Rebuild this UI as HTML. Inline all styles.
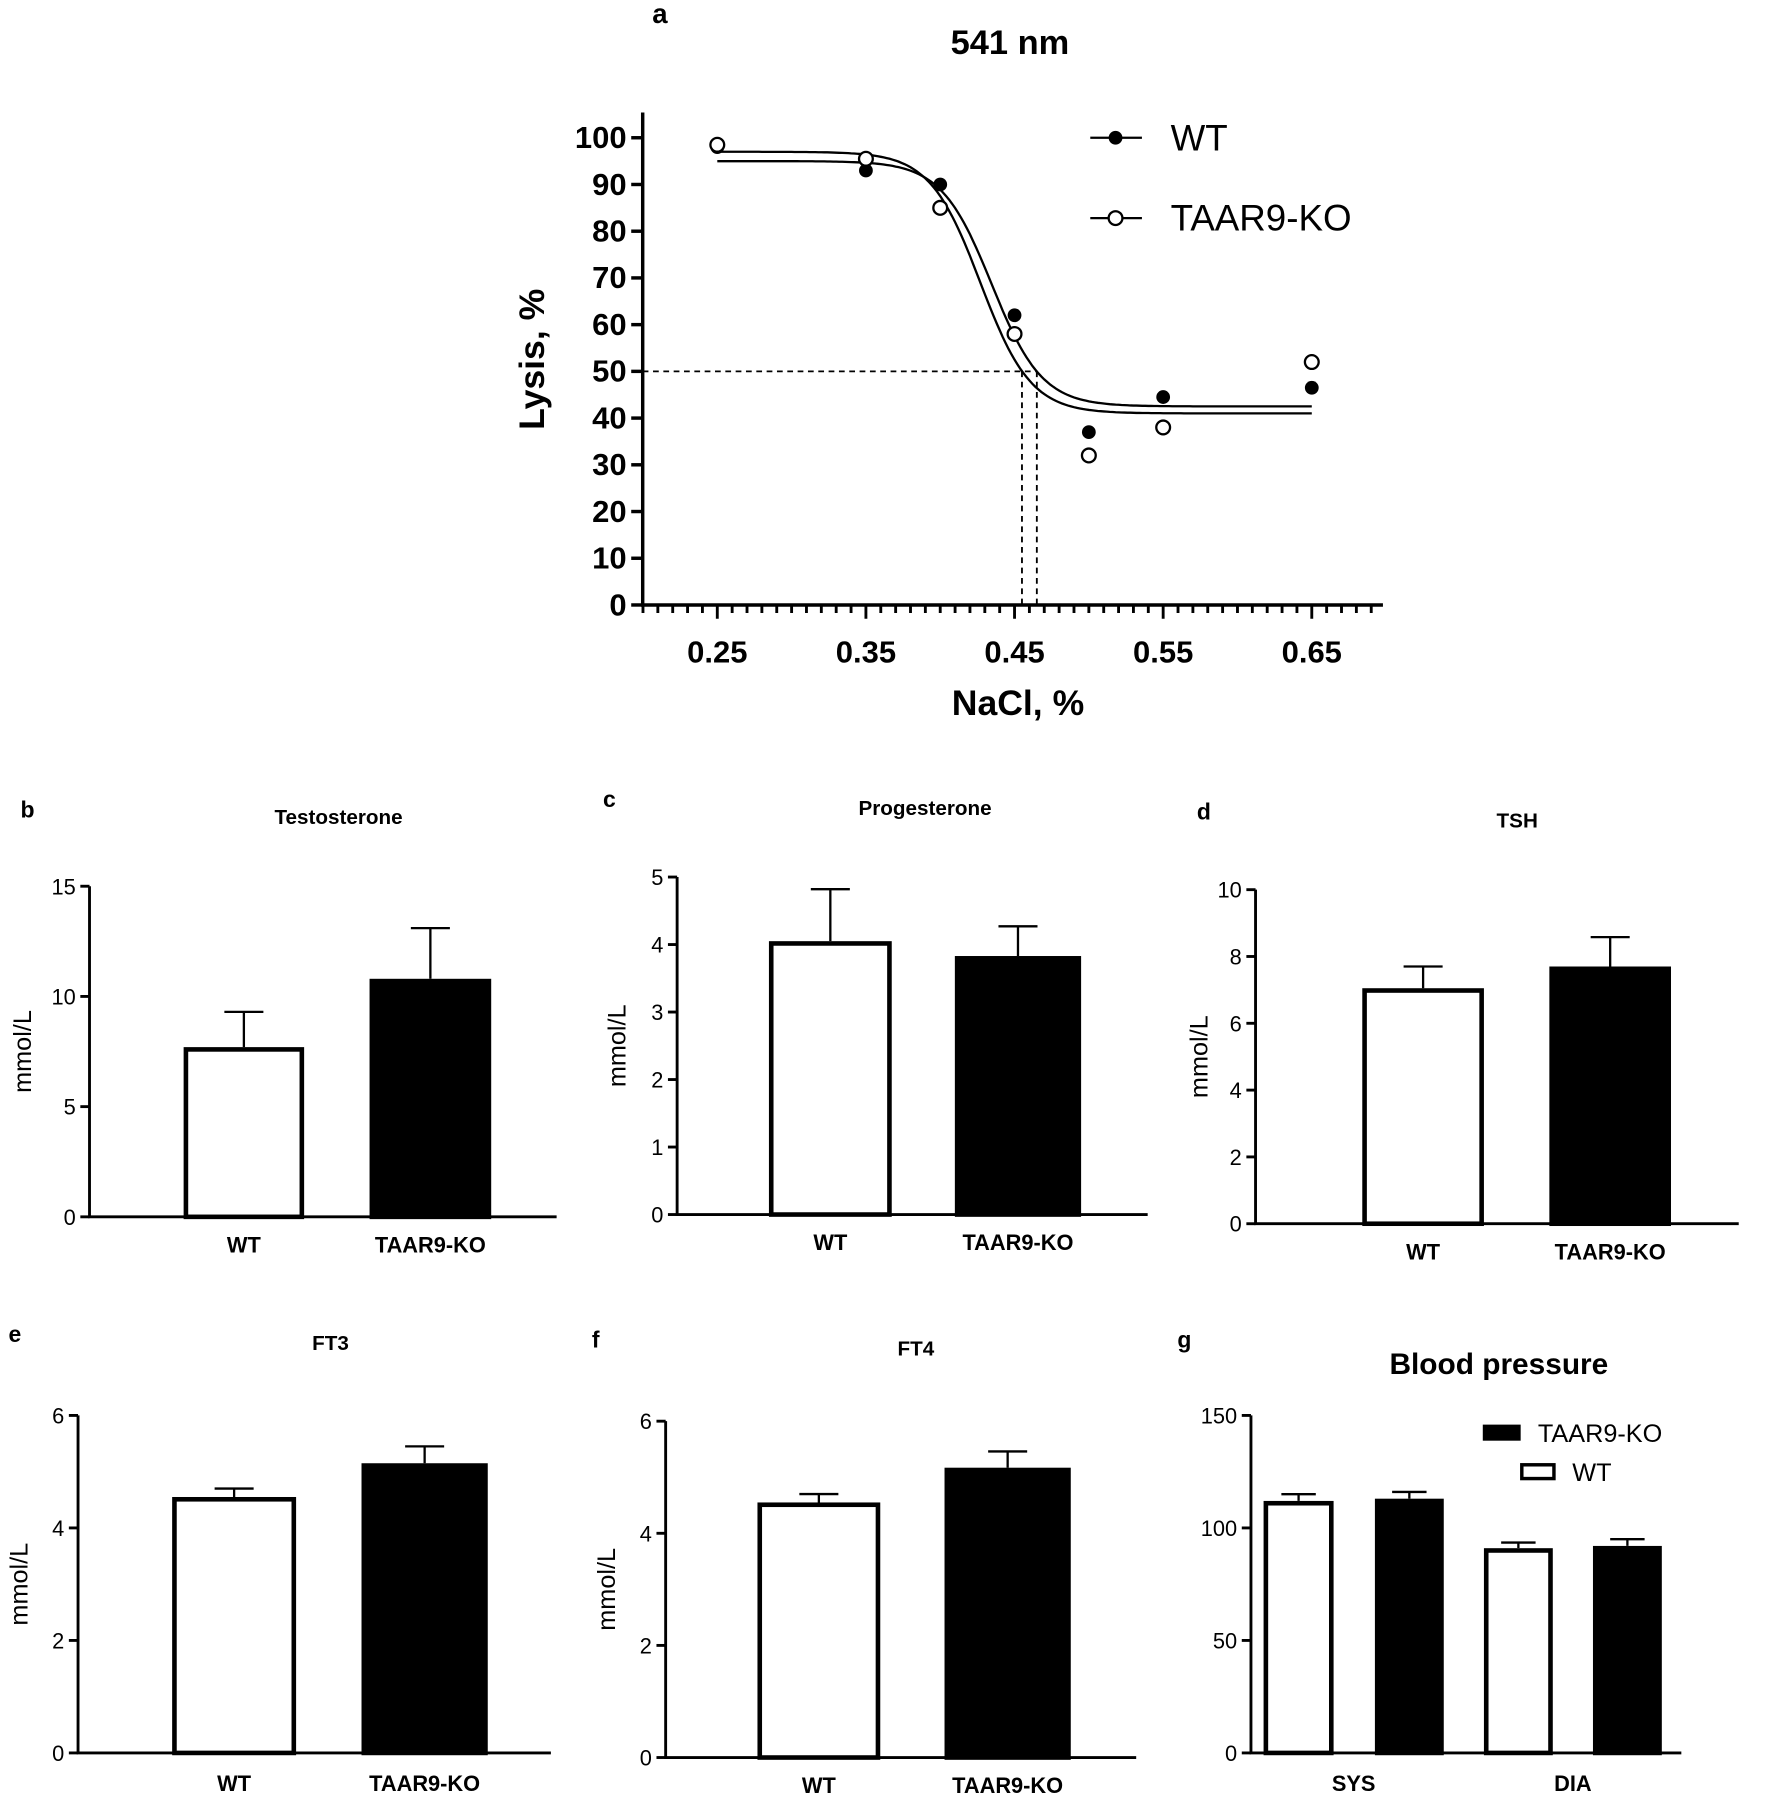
<!DOCTYPE html>
<html><head><meta charset="utf-8"><style>
html,body{margin:0;padding:0;background:#fff}
svg{display:block}
text{font-family:"Liberation Sans",Arial,sans-serif;fill:#000}
</style></head><body>
<svg id="fig" width="1772" height="1800" viewBox="0 0 1544 1568" preserveAspectRatio="none" xmlns="http://www.w3.org/2000/svg"></svg>
<script>
// Panel a data
const naclX = [0.25,0.35,0.40,0.45,0.50,0.55,0.65];
const wtLysis = [98,93,90,62,37,44.5,46.5];
const koLysis = [98.5,95.5,85,58,32,38,52];
const wtFit = {top:95,bottom:42.5,ic50:0.4345,s:0.017,half:0.465};
const koFit = {top:97,bottom:41,ic50:0.427,s:0.017,half:0.455};
const lysisTicks = [0,10,20,30,40,50,60,70,80,90,100];
const naclTicks = [0.25,0.35,0.45,0.55,0.65];
// Bar panels data
const barCats = ["WT","TAAR9-KO"];
const testoVals = [7.7,10.8], testoErr = [9.3,13.1];
const progVals = [4.05,3.83], progErr = [4.82,4.27];
const tshVals = [7.05,7.7], tshErr = [7.7,8.58];
const ft3Vals = [4.55,5.15], ft3Err = [4.7,5.45];
const ft4Vals = [4.55,5.17], ft4Err = [4.7,5.46];
const bpCats = ["SYS","DIA"];
const bpWt = [112,91], bpWtErr = [115,93.5];
const bpKo = [113,92], bpKoErr = [116,95];

const NS="http://www.w3.org/2000/svg";
const svg=document.getElementById('fig');
function el(tag,attrs,parent,txt){const e=document.createElementNS(NS,tag);for(const k in attrs)e.setAttribute(k,attrs[k]);if(txt!==undefined)e.textContent=txt;(parent||svg).appendChild(e);return e;}
function grp(name){const g=el('g',{});return g;}

// ---- Panel a ----
(function(){
 const g=grp('panel-a-lysis-chart');
 const X=v=>625+(v-0.25)*1295, Y=v=>527-v*4.07;
 const t1=el('text',{x:575,y:20,'font-size':24,'font-weight':'bold','text-anchor':'middle'},g,'a');
 
 const t2=el('text',{x:880,y:47,'font-size':30,'font-weight':'bold','text-anchor':'middle'},g,'541 nm');
 
 const ax=el('path',{d:`M560 98 V527 H1205`,stroke:'#000','stroke-width':3,fill:'none'},g);
 
 lysisTicks.forEach(v=>{el('line',{x1:550,x2:560,y1:Y(v),y2:Y(v),stroke:'#000','stroke-width':3},g);
  const t=el('text',{x:546,y:Y(v)+9,'font-size':27,'font-weight':'bold','text-anchor':'end'},g,String(v));
  });
 for(let i=0;i<=49;i++){const v=0.2+i*0.01;const x=X(v);if(x>1205)break;
  const major=naclTicks.some(t=>Math.abs(t-v)<1e-6);
  el('line',{x1:x,x2:x,y1:527,y2:527+(major?12:7),stroke:'#000','stroke-width':2.5},g);}
 naclTicks.forEach(v=>{const t=el('text',{x:X(v),y:577,'font-size':27,'font-weight':'bold','text-anchor':'middle'},g,v.toFixed(2));
  });
 const xt=el('text',{x:887,y:623,'font-size':31,'font-weight':'bold','text-anchor':'middle'},g,'NaCl, %');
 
 const yt=el('text',{x:0,y:0,'font-size':31,'font-weight':'bold','text-anchor':'middle',transform:'translate(474,313) rotate(-90)'},g,'Lysis, %');
 
 const d=el('path',{d:`M560 ${Y(50)} H${X(wtFit.half)} M${X(koFit.half)} ${Y(50)} V527 M${X(wtFit.half)} ${Y(50)} V527`,stroke:'#000','stroke-width':1.6,'stroke-dasharray':'5,4',fill:'none'},g);
 
 function curve(p,name){let s='';for(let v=0.25;v<=0.6501;v+=0.002){const y=p.bottom+(p.top-p.bottom)/(1+Math.exp((v-p.ic50)/p.s));s+=(s?'L':'M')+X(v).toFixed(1)+' '+Y(y).toFixed(1);}
  const c=el('path',{d:s,stroke:'#000','stroke-width':2,fill:'none'},g);}
 curve(wtFit,'wt-fit-curve');curve(koFit,'ko-fit-curve');
 naclX.forEach((v,i)=>{
  const a=el('circle',{cx:X(v),cy:Y(wtLysis[i]),r:6,fill:'#000'},g);
  const b=el('circle',{cx:X(v),cy:Y(koLysis[i]),r:6,fill:'#fff',stroke:'#000','stroke-width':2},g);});
 const l1=el('g',{},g);
 el('line',{x1:950,x2:995,y1:120,y2:120,stroke:'#000','stroke-width':2},l1);el('circle',{cx:972,cy:120,r:6,fill:'#000'},l1);
 el('text',{x:1020,y:131,'font-size':32},l1,'WT');
 const l2=el('g',{},g);
 el('line',{x1:950,x2:995,y1:190,y2:190,stroke:'#000','stroke-width':2},l2);el('circle',{cx:972,cy:190,r:6,fill:'#fff',stroke:'#000','stroke-width':2},l2);
 el('text',{x:1020,y:201,'font-size':32},l2,'TAAR9-KO');
})();

// ---- bar panels ----
function barPanel(o){
 const g=grp('panel-'+o.letter+'-bar-chart');
 const Y=v=>o.y0-(v/o.max)*(o.y0-o.yTop);
 const lt=el('text',{x:o.lx,y:o.ly,'font-size':20,'font-weight':'bold','text-anchor':'middle'},g,o.letter);
 
 const tt=el('text',{x:o.tx,y:o.ty,'font-size':o.tsize||18,'font-weight':'bold','text-anchor':'middle'},g,o.title);
 
 const ax=el('path',{d:`M${o.ax} ${o.yTop} V${o.y0} H${o.xEnd}`,stroke:'#000','stroke-width':2.5,fill:'none'},g);
 
 o.ticks.forEach(v=>{el('line',{x1:o.ax-8,x2:o.ax,y1:Y(v),y2:Y(v),stroke:'#000','stroke-width':2.5},g);
  const t=el('text',{x:o.ax-12,y:Y(v)+7,'font-size':19,'text-anchor':'end'},g,String(v));
  });
 const yt=el('text',{x:0,y:0,'font-size':22,'text-anchor':'middle',transform:`translate(${o.ylx},${(o.y0+o.yTop)/2}) rotate(-90)`},g,'mmol/L');
 
 o.bars.forEach((b,i)=>{
  const top=Y(o.vals[i]);
  const eb=el('path',{d:`M${(b[0]+b[1])/2} ${top} V${Y(o.errs[i])} M${(b[0]+b[1])/2-17} ${Y(o.errs[i])} H${(b[0]+b[1])/2+17}`,stroke:'#000','stroke-width':2,fill:'none'},g);
  
  const r=el('rect',{x:b[0]+2,y:top+2,width:b[1]-b[0]-4,height:o.y0-top-2,fill:i?'#000':'#fff',stroke:'#000','stroke-width':4},g);
  
  const t=el('text',{x:(b[0]+b[1])/2,y:o.xly,'font-size':19,'font-weight':'bold','text-anchor':'middle'},g,o.cats[i]);
  });
}
barPanel({letter:'b',lx:24,ly:712,title:'Testosterone',tx:295,ty:718,ax:78,y0:1060,yTop:772,max:15,xEnd:485,ticks:[0,5,10,15],ylx:27,xly:1091,bars:[[160,265],[322,428]],vals:testoVals,errs:testoErr,cats:barCats});
barPanel({letter:'c',lx:531,ly:703,title:'Progesterone',tx:806,ty:710,ax:590,y0:1058,yTop:764,max:5,xEnd:1000,ticks:[0,1,2,3,4,5],ylx:545,xly:1089,bars:[[670,777],[832,942]],vals:progVals,errs:progErr,cats:barCats});
barPanel({letter:'d',lx:1049,ly:714,title:'TSH',tx:1322,ty:721,ax:1094,y0:1066,yTop:775,max:10,xEnd:1515,ticks:[0,2,4,6,8,10],ylx:1052,xly:1097,bars:[[1187,1293],[1350,1456]],vals:tshVals,errs:tshErr,cats:barCats});
barPanel({letter:'e',lx:13,ly:1169,title:'FT3',tx:288,ty:1176,ax:68,y0:1527,yTop:1233,max:6,xEnd:480,ticks:[0,2,4,6],ylx:24,xly:1560,bars:[[150,258],[315,425]],vals:ft3Vals,errs:ft3Err,cats:barCats});
barPanel({letter:'f',lx:519,ly:1174,title:'FT4',tx:798,ty:1181,ax:580,y0:1531,yTop:1238,max:6,xEnd:990,ticks:[0,2,4,6],ylx:536,xly:1562,bars:[[660,767],[823,933]],vals:ft4Vals,errs:ft4Err,cats:barCats});

// ---- Panel g ----
(function(){
 const g=grp('panel-g-blood-pressure');
 const y0=1527,yTop=1233,max=150,ax=1090;
 const Y=v=>y0-(v/max)*(y0-yTop);
 const lt=el('text',{x:1032,y:1174,'font-size':20,'font-weight':'bold','text-anchor':'middle'},g,'g');
 
 const tt=el('text',{x:1306,y:1197,'font-size':26,'font-weight':'bold','text-anchor':'middle'},g,'Blood pressure');
 
 const a=el('path',{d:`M${ax} ${yTop} V${y0} H1465`,stroke:'#000','stroke-width':2.5,fill:'none'},g);
 
 [0,50,100,150].forEach(v=>{el('line',{x1:ax-8,x2:ax,y1:Y(v),y2:Y(v),stroke:'#000','stroke-width':2.5},g);
  const t=el('text',{x:ax-12,y:Y(v)+7,'font-size':19,'text-anchor':'end'},g,String(v));
  });
 const pos=[[[1101,1162],[1198,1258]],[[1293,1353],[1388,1448]]];
 bpCats.forEach((c,i)=>{
  [[bpWt,bpWtErr,'#fff','wt'],[bpKo,bpKoErr,'#000','ko']].forEach((s,j)=>{
   const b=pos[i][j],cx=(b[0]+b[1])/2,top=Y(s[0][i]);
   const eb=el('path',{d:`M${cx} ${top} V${Y(s[1][i])} M${cx-15} ${Y(s[1][i])} H${cx+15}`,stroke:'#000','stroke-width':2,fill:'none'},g);
   
   const r=el('rect',{x:b[0]+2,y:top+2,width:b[1]-b[0]-4,height:y0-top-2,fill:s[2],stroke:'#000','stroke-width':4},g);
   });
  const t=el('text',{x:(pos[i][0][0]+pos[i][1][1])/2,y:1560,'font-size':19,'font-weight':'bold','text-anchor':'middle'},g,c);
  });
 const l1=el('g',{},g);
 el('rect',{x:1292,y:1241,width:33,height:14,fill:'#000'},l1);el('text',{x:1340,y:1256,'font-size':22},l1,'TAAR9-KO');
 const l2=el('g',{},g);
 el('rect',{x:1326,y:1276,width:28,height:12,fill:'#fff',stroke:'#000','stroke-width':3},l2);el('text',{x:1370,y:1290,'font-size':22},l2,'WT');
})();
</script>
</body></html>
